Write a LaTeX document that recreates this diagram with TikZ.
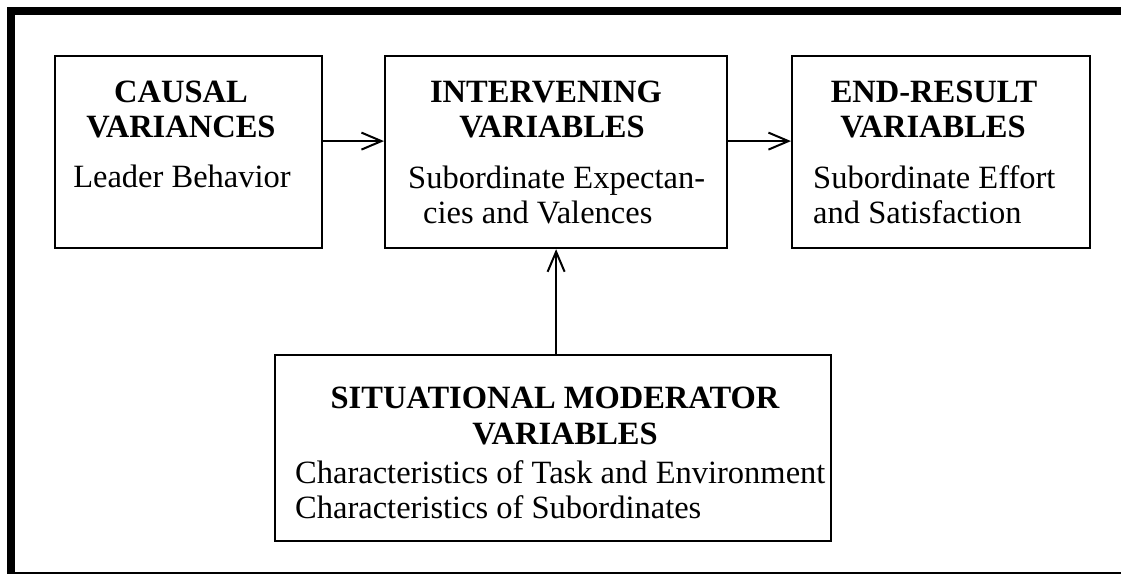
\documentclass[tikz,border=0pt]{standalone}
\usepackage{fontspec}
\setmainfont{Liberation Serif}
\usetikzlibrary{arrows.meta}
\tikzset{box/.style={draw,line width=2.2pt,minimum width=#1,anchor=north west,inner sep=0pt},
 head/.style={font=\fontsize{32.5}{35}\selectfont\bfseries,anchor=base,inner sep=0pt},
 body/.style={font=\fontsize{32.5}{35}\selectfont,anchor=base west,inner sep=0pt},
 arr/.style={line width=2pt,-{Straight Barb[length=20pt,width=17pt,line width=2pt]}},
 }

\begin{document}
\begin{tikzpicture}[x=1pt,y=-1pt]
        \useasboundingbox (0,0) rectangle (1121,574);
        % frame
        \fill (7,7) rectangle (15,574);
        \fill (7,7) rectangle (1121,15);
        \fill (15,571.5) rectangle (1121,574);
        % boxes
        \node[box=267pt,minimum height=192pt] (causal) at (54,55) {};
        \node[box=342pt,minimum height=192pt] (interv) at (384,55) {};
        \node[box=298pt,minimum height=192pt] (endres) at (791,55) {};
        \node[box=556pt,minimum height=186pt] (situat) at (274,354) {};
        % texts
        \node[head] (c1) at (181,102) {CAUSAL};
        \node[head] (c2) at (181,137) {VARIANCES};
        \node[head] (c3) at (182,187) {\mdseries Leader Behavior};
        \node[head] (i1) at (546,102) {INTERVENING};
        \node[head] (i2) at (552,137) {VARIABLES};
        \node[body] (i3) at (408,188) {Subordinate Expectan-};
        \node[body] (i4) at (423,223) {cies and Valences};
        \node[head] (e1) at (934,102) {END-RESULT};
        \node[head] (e2) at (933,137) {VARIABLES};
        \node[body] (e3) at (813,188) {Subordinate Effort};
        \node[body] (e4) at (813,223) {and Satisfaction};
        \node[head] (s1) at (555,408) {SITUATIONAL MODERATOR};
        \node[head] (s2) at (565,444) {VARIABLES};
        \node[body] (s3) at (295,483) {Characteristics of Task and Environment};
        \node[body] (s4) at (295,518) {Characteristics of Subordinates};
        % arrows
        \draw[arr] ([yshift=11pt]causal.east) -- ([yshift=11pt]interv.west);
        \draw[arr] ([yshift=11pt]interv.east) -- ([yshift=11pt]endres.west);
        \draw[arr] (interv.south |- situat.north) -- (interv.south);
    \end{tikzpicture}
\end{document}
